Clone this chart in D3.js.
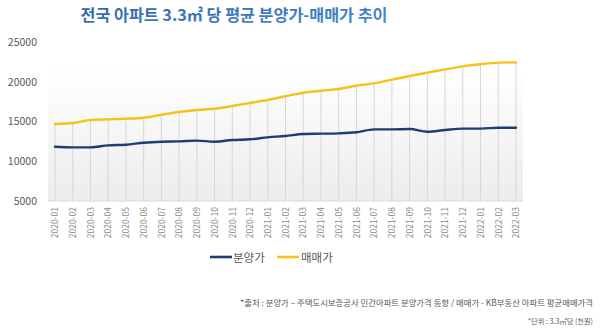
<!DOCTYPE html>
<html><head><meta charset="utf-8">
<script src="https://cdn.jsdelivr.net/npm/d3@7"></script>
<style>body{margin:0;background:#fff}svg{display:block}</style>
</head><body>
<svg id="c" width="600" height="329"></svg>
<script>
const title = "전국 아파트 3.3㎡ 당 평균 분양가-매매가 추이";
const months = ["2020-01","2020-02","2020-03","2020-04","2020-05","2020-06","2020-07","2020-08","2020-09","2020-10","2020-11","2020-12","2021-01","2021-02","2021-03","2021-04","2021-05","2021-06","2021-07","2021-08","2021-09","2021-10","2021-11","2021-12","2022-01","2022-02","2022-03"];
const presale = [11830,11750,11750,12000,12080,12330,12460,12500,12590,12460,12670,12760,13010,13180,13430,13470,13510,13640,14010,14010,14050,13720,13930,14100,14100,14220,14220];
const trade = [14690,14810,15190,15270,15350,15480,15850,16200,16450,16610,16950,17330,17700,18170,18620,18870,19090,19500,19800,20260,20720,21140,21560,21940,22200,22400,22440];
const yTicks = [5000,10000,15000,20000,25000];
const seriesNames = ["분양가","매매가"];
const colors = ["#1f3d73","#f5c21b"];
const source = "*출처 : 분양가 – 주택도시보증공사 민간아파트 분양가격 동향 / 매매가 - KB부동산 아파트 평균매매가격";
const unit = "*단위 : 3.3㎡당 (천원)";

const svg = d3.select("#c");
const font = "'Noto Sans CJK KR','Noto Sans',sans-serif";
const defs = svg.append("defs");
const bg = defs.append("linearGradient").attr("id","bg").attr("x1",0).attr("y1",0).attr("x2",0).attr("y2",1);
bg.append("stop").attr("offset","0%").attr("stop-color","#ffffff");
bg.append("stop").attr("offset","100%").attr("stop-color","#ececec");
const tg = defs.append("linearGradient").attr("id","tg").attr("x1",0).attr("y1",0).attr("x2",1).attr("y2",1);
tg.append("stop").attr("offset","0%").attr("stop-color","#2d5fa0");
tg.append("stop").attr("offset","100%").attr("stop-color","#4a8fd6");

const x = d3.scalePoint().domain(months).range([55,516]);
const y = d3.scaleLinear().domain([5000,25000]).range([201,42]);

svg.append("rect").attr("x",48).attr("y",y(20000)-15).attr("width",523-48).attr("height",201-(y(20000)-15)).attr("fill","url(#bg)");

svg.append("g").selectAll("line").data(months).join("line")
  .attr("x1",d=>x(d)).attr("x2",d=>x(d))
  .attr("y1",(d,i)=>y(trade[i])).attr("y2",y(5000))
  .attr("stroke","#d6d6d6").attr("stroke-width",1);

svg.append("line").attr("x1",48).attr("x2",523).attr("y1",y(5000)).attr("y2",y(5000)).attr("stroke","#d9d9d9");

const ya = svg.append("g").attr("transform","translate(37,0)")
  .call(d3.axisLeft(y).tickValues(yTicks).tickSize(0).tickPadding(0).tickFormat(d3.format("d")));
ya.select(".domain").remove();
ya.selectAll("text").attr("font-family",font).attr("font-size",10.5).attr("fill","#595959");

const xa = svg.append("g").attr("transform","translate(0,206)")
  .call(d3.axisBottom(x).tickSize(0).tickPadding(0));
xa.select(".domain").remove();
xa.selectAll("text").attr("font-family",font).attr("font-size",8.5).attr("fill","#8a8a8a")
  .attr("transform","rotate(-90)").attr("text-anchor","end").attr("dy","0.32em").attr("dx","-1")
  .attr("y",0).attr("x",0);

const line = d3.line().x((d,i)=>x(months[i])).y(d=>y(d)).curve(d3.curveMonotoneX);
[presale,trade].forEach((s,k)=>{
  svg.append("path").datum(s).attr("d",line).attr("fill","none")
    .attr("stroke",colors[k]).attr("stroke-width",2.4).attr("stroke-linecap","round");
});

svg.append("text").attr("x",234).attr("y",21).attr("text-anchor","middle")
  .attr("font-family",font).attr("font-weight","bold").attr("font-size",16.2).attr("fill","url(#tg)").text(title);

const lg = [{x:210,tx:233},{x:277,tx:301}];
lg.forEach((p,k)=>{
  svg.append("line").attr("x1",p.x).attr("x2",p.x+22).attr("y1",257).attr("y2",257).attr("stroke",colors[k]).attr("stroke-width",2.6);
  svg.append("text").attr("x",p.tx).attr("y",261.5).attr("font-family",font).attr("font-size",11.5).attr("fill","#595959").text(seriesNames[k]);
});

svg.append("text").attr("x",593).attr("y",306).attr("text-anchor","end").attr("font-family",font).attr("font-size",8.4).attr("fill","#595959").text(source);
svg.append("text").attr("x",593).attr("y",324).attr("text-anchor","end").attr("font-family",font).attr("font-size",7.2).attr("fill","#595959").text(unit);
</script>
</body></html>
